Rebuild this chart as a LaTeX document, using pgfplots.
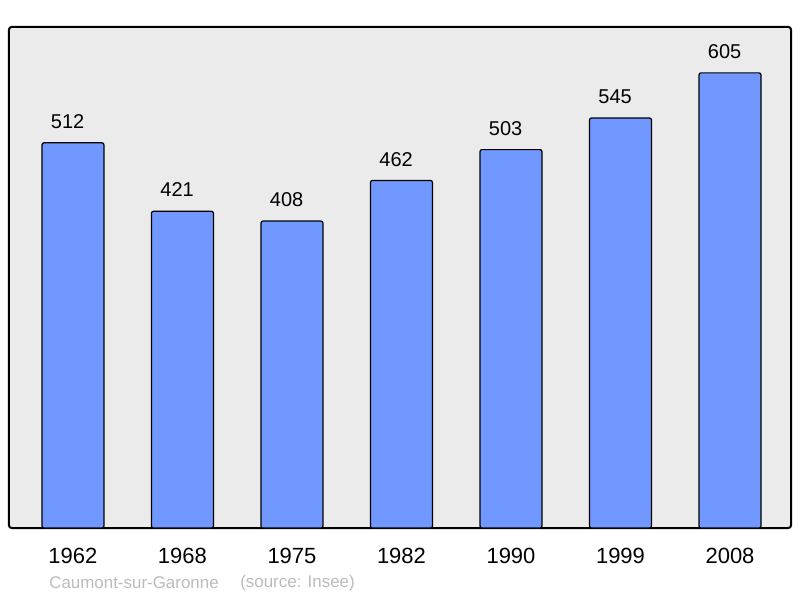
\documentclass[border=0pt]{standalone}
\usepackage{pgfplots}
\pgfplotsset{compat=1.18}
\usepackage{fontspec}
\setmainfont{Liberation Sans}
\definecolor{barblue}{HTML}{7098FF}
\definecolor{panel}{HTML}{EBEBEB}
\definecolor{foot}{HTML}{BBBBBB}
\begin{document}
\begin{tikzpicture}
\begin{axis}[
  scale only axis,
  width=586.5pt, height=375.75pt,
  xmin=-0.584, xmax=6.557,
  ymin=0, ymax=666,
  clip=false,
  axis line style={draw=none},
  axis background/.style={fill=panel, draw=black, line width=1.5pt, rounded corners=2pt},
  ytick=\empty,
  xtick={0,1,2,3,4,5,6},
  xticklabels={1962,1968,1975,1982,1990,1999,2008},
  major tick length=0pt,
  x tick label style={anchor=center, yshift=-21pt, font=\fontsize{16.5pt}{18pt}\selectfont},
  /pgf/number format/assume math mode=true,
  nodes near coords,
  every node near coord/.append style={anchor=center, xshift=-4pt, yshift=16pt, font=\fontsize{15pt}{17pt}\selectfont, black},
]
\addplot[ybar, bar width=0.566, fill=barblue, draw=black, line width=0.9pt, rounded corners=1.5pt] coordinates {
  (0,512) (1,421) (2,408) (3,462) (4,503) (5,545) (6,605)};
\path (rel axis cs:-0.01151,-0.13972) rectangle (rel axis cs:1.01151,1.05389);
\node[anchor=west, text=foot, inner sep=0pt, font=\fontsize{12.7pt}{14pt}\selectfont] at ([yshift=-41.25pt]rel axis cs:0.0512,0) {Caumont-sur-Garonne};
\node[anchor=west, text=foot, inner sep=0pt, font=\fontsize{12.7pt}{14pt}\selectfont] at ([yshift=-41.25pt]rel axis cs:0.2954,0) {(source: Insee)};
\end{axis}
\end{tikzpicture}
\end{document}
